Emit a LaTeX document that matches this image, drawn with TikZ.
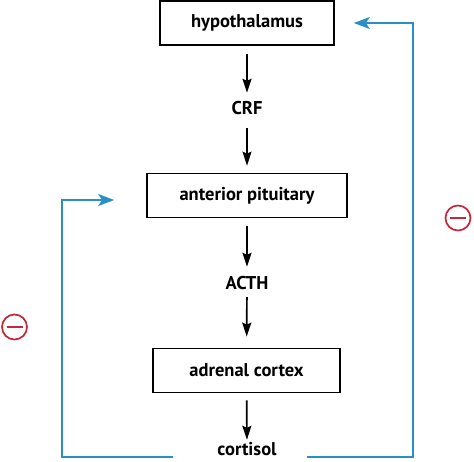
\documentclass[tikz,border=0pt]{standalone}
\usepackage{fontspec}
\setmainfont{PT Sans}
\usetikzlibrary{arrows.meta}
\definecolor{fbblue}{HTML}{2A8FC6}
\definecolor{fbred}{HTML}{C22A3C}
\begin{document}
\begin{tikzpicture}[x=1pt, y=-1pt, font=\bfseries\fontsize{18.5}{22}\selectfont, >={Stealth[length=14pt,width=9pt,inset=2pt]},
		box/.style={draw, line width=1.7pt, inner sep=0pt, minimum height=44pt},
		hormone/.style={inner xsep=0pt, inner ysep=7pt, text height=14pt, text depth=0pt},
		link/.style={->, line width=1.7pt, shorten <=7pt, shorten >=7pt},
		feedback/.style={fbblue, line width=1.8pt, -{Stealth[length=16pt,width=12pt,inset=4pt]}},
		minus/.style={circle, draw=fbred, line width=1.7pt, minimum size=25pt, inner sep=0pt,
			path picture={\draw[fbred, line width=2.2pt] ([xshift=-8pt]path picture bounding box.center) -- ([xshift=8pt]path picture bounding box.center);}}]
		\useasboundingbox (0,0) rectangle (474,461);
		% axis of the cascade
		\node[box, minimum width=174pt] (hypo) at (247,23) {hypothalamus};
		\node[hormone] (crf) at (247,107) {CRF};
		\node[box, minimum width=200pt] (pit) at (247,195.5) {anterior pituitary};
		\node[hormone] (acth) at (247,282) {ACTH};
		\node[box, minimum width=187pt] (adr) at (246.5,370.5) {adrenal cortex};
		\node[hormone, inner ysep=1pt] (cort) at (247,448) {cortisol};
		\draw[link, shorten <=8pt, shorten >=0pt] (hypo) -- (crf);
		\draw[link] (crf) -- (pit);
		\draw[link, shorten <=8pt, shorten >=1pt] (pit) -- (acth);
		\draw[link, shorten <=1pt, shorten >=11pt] (acth) -- (adr);
		\draw[link, shorten >=0pt] (adr) -- (cort);
		% negative feedback loops
		\coordinate (rgap) at (307,457);
		\coordinate (rcorner) at (413,457);
		\coordinate (lgap) at (173,457);
		\coordinate (lcorner) at (62,457);
		\draw[feedback] (rgap) -- (rcorner) |- ([xshift=19pt]hypo.east);
		\draw[feedback] (lgap) -- (lcorner) |- ([xshift=-32pt,yshift=-4.5pt]pit.west);
		\node[minus] (minusright) at (458,218) {};
		\node[minus] (minusleft) at (14.5,327) {};
	\end{tikzpicture}
\end{document}
